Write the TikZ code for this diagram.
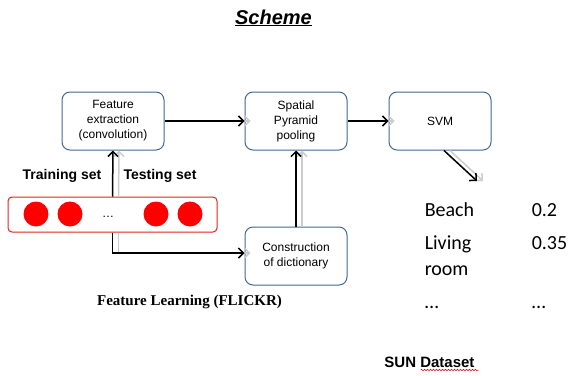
\documentclass[tikz,border=0pt]{standalone}
\usepackage{fontspec}
\setmainfont{Liberation Sans}
\newfontfamily\calfont{Carlito}
\newfontfamily\timesfont{Liberation Serif}
\usetikzlibrary{positioning, arrows.meta, decorations.pathmorphing}
\definecolor{boxblue}{RGB}{65,105,145}
\definecolor{setred}{RGB}{232,30,30}

\begin{document}
\begin{tikzpicture}[x=1pt,y=-1pt,line width=1.5pt,
                    proc box/.style={draw=boxblue,line width=1pt,rounded corners=8pt,fill=white,
                      minimum width=102pt,minimum height=58pt,align=center,
                      font=\fontsize{12}{15}\selectfont},
                    img dot/.style={circle,fill=red,minimum size=25pt,inner sep=0pt},
                    flow/.style={-{Straight Barb[length=5pt,width=10pt]},
                      preaction={draw=black!20,-{Straight Barb[length=5pt,width=10pt]},transform canvas={xshift=6pt}}},
                    set label/.style={font=\bfseries\fontsize{14}{16}\selectfont,anchor=base},
                    score/.style={font=\calfont\fontsize{20}{24}\selectfont,anchor=base west,inner sep=0pt}]

  \useasboundingbox (0,0) rectangle (570,375);

  \node[font=\bfseries\itshape\fontsize{20}{24}\selectfont,anchor=base] (title) at (273.5,24) {\underline{Scheme}};

  % pipeline
  \node[proc box] (fe) at (113,121) {Feature\\extraction\\(convolution)};
  \node[proc box] (sp) [right=80pt of fe] {Spatial\\Pyramid\\pooling};
  \node[proc box] (svm) [right=41pt of sp] {SVM};
  \node[proc box] (cd) [below=76pt of sp] {Construction\\of dictionary};

  % images
  \node[draw=setred,line width=1pt,rounded corners=4pt,minimum width=209pt,minimum height=35pt] (rb) at (112.5,214.5) {};
  \foreach \x/\n in {36/d1,70/d2,156/d3,190/d4}
    \node[img dot] (\n) at (\x,214) {};
  \node[font=\fontsize{12}{14}\selectfont,anchor=base] (dots) at (108,217) {\dots};

  \node[set label] (train) at (62,179) {Training set};
  \node[set label] (test) at (160,179) {Testing set};
  \node[font=\timesfont\bfseries\fontsize{15}{18}\selectfont,anchor=base] (fl) at (189.5,305) {Feature Learning (FLICKR)};

  \coordinate (res) at (477,181);

  \path (rb.north) edge[flow] (fe.south)
        (rb.south) edge[flow,to path={|- (\tikztotarget)}] ([yshift=3pt]cd.west)
        (fe) edge[flow] (sp)
        (sp) edge[flow] (svm)
        (cd) edge[flow] (sp)
        ([xshift=4pt]svm.south) edge[flow] (res);

  % results
  \node[score] (b1) at (424,216) {Beach};
  \node[score] (b2) at (531,216) {0.2};
  \node[score] (l1) at (424,249) {Living};
  \node[score] (l2) at (531,249) {0.35};
  \node[score] (l3) at (424,275) {room};
  \node[score] (e1) at (424,308) {\dots};
  \node[score] (e2) at (531,308) {\dots};

  \node[font=\bfseries\fontsize{15}{18}\selectfont,anchor=base] (sun) at (429.5,367) {SUN Dataset};
  \draw[red,line width=.5pt,decorate,decoration={snake,amplitude=.8pt,segment length=3pt}]
    ([xshift=-58pt,yshift=-3pt]sun.base east) -- ([yshift=-3pt]sun.base east);

\end{tikzpicture}
\end{document}
